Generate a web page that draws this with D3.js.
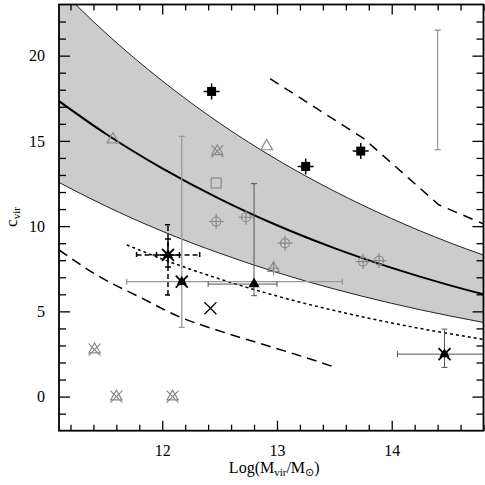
<!DOCTYPE html>
<html>
<head>
<meta charset="utf-8">
<script src="https://cdn.jsdelivr.net/npm/d3@7"></script>
<style>
  body { margin: 0; background: #fff; }
  text { font-family: "Liberation Serif", "DejaVu Serif", serif; }
</style>
</head>
<body>
<script>
// model band (mean relation and its scatter)
const bandX  = [11.1, 11.5, 12.0, 12.5, 13.0, 13.5, 14.0, 14.5, 14.8];
const meanC  = [17.33, 15.45, 13.39, 11.60, 10.05, 8.71, 7.55, 6.54, 6.00];
const upperC = [23.97, 21.37, 18.52, 16.04, 13.90, 12.05, 10.44, 9.04, 8.30];
const lowerC = [12.56, 11.20, 9.70, 8.41, 7.28, 6.31, 5.47, 4.74, 4.35];

// other curves
const dotX = [11.69, 12.0, 12.5, 13.0, 13.5, 14.0, 14.5, 14.8];
const dotC = [8.9, 8.07, 6.9, 5.9, 5.05, 4.32, 3.69, 3.36];
const lowDashX = [11.1, 11.45, 11.8, 12.15, 12.5, 12.85, 13.2, 13.48];
const lowDashC = [8.6, 7.05, 5.85, 4.68, 3.85, 3.12, 2.4, 1.78];
const upDashX = [12.94, 13.76, 14.41, 14.8];
const upDashC = [18.65, 15.12, 11.25, 10.13];

// points [logM, c]
const blackSquares   = [[12.43, 17.9], [13.25, 13.5], [13.73, 14.4]];
const openTriangles  = [[11.57, 15.08], [12.91, 14.68]];
const crossTriangles = [[12.48, 14.39], [11.41, 2.76], [11.60, 0], [12.09, 0]];
const plusTriangles  = [[12.97, 7.53]];
const openSquares    = [[12.47, 12.53]];
const crosshairs     = [[12.47, 10.27], [12.73, 10.52], [13.07, 9.0], [13.75, 7.92], [13.89, 7.98]];
const thinCrosses    = [[12.42, 5.18]];
const stars          = [[12.05, 8.31], [12.17, 6.74], [14.46, 2.49]];
const filledTriangles = [[12.80, 6.6]];

// error bars [x, c, xlo, xhi, clo, chi, kind]
const errorBars = [
  [12.05, 8.31, 11.776, 12.326, 5.96, 10.08, 'dash'],
  [12.05, 8.31, 11.95, 12.15, 7.6, 9.24, 'black'],
  [12.17, 6.74, 11.69, 13.57, 4.06, 15.27, 'light'],
  [12.80, 6.6, 12.40, 13.0, 5.92, 12.49, 'dark'],
  [14.46, 2.49, 14.05, 14.9, 1.71, 3.96, 'dark'],
  [14.40, 18.0, null, null, 14.49, 21.49, 'light']
];

const xTicks = [12, 13, 14];
const yTicks = [0, 5, 10, 15, 20];

const W = 485, H = 485;
const margin = {left: 59, right: 1.5, top: 4.5, bottom: 54.3};
const width = W - margin.left - margin.right;
const height = H - margin.top - margin.bottom;

const svg = d3.select('body').append('svg')
  .attr('width', W)
  .attr('height', H);

const g = svg.append('g')
  .attr('transform', `translate(${margin.left},${margin.top})`);

const x = d3.scaleLinear().domain([11.1, 14.8]).range([0, width]);
const y = d3.scaleLinear().domain([-2, 23]).range([height, 0]);

svg.append('defs').append('clipPath').attr('id', 'plot')
  .append('rect').attr('width', width).attr('height', height);

const plot = g.append('g').attr('clip-path', 'url(#plot)');

const gray = '#8a8a8a';

// band
const area = d3.area()
  .x((d, i) => x(bandX[i]))
  .y0((d, i) => y(lowerC[i]))
  .y1((d, i) => y(upperC[i]))
  .curve(d3.curveMonotoneX);
plot.append('path').datum(bandX).attr('d', area).attr('fill', '#cccccc');

const lineFrom = (xs, cs, curve) => d3.line()
  .x((d, i) => x(xs[i]))
  .y((d, i) => y(cs[i]))
  .curve(curve)(xs);

plot.append('path').attr('d', lineFrom(bandX, upperC, d3.curveMonotoneX))
  .attr('fill', 'none').attr('stroke', '#222').attr('stroke-width', 1);
plot.append('path').attr('d', lineFrom(bandX, lowerC, d3.curveMonotoneX))
  .attr('fill', 'none').attr('stroke', '#222').attr('stroke-width', 1);
plot.append('path').attr('d', lineFrom(bandX, meanC, d3.curveMonotoneX))
  .attr('fill', 'none').attr('stroke', '#000').attr('stroke-width', 2);

plot.append('path').attr('d', lineFrom(dotX, dotC, d3.curveMonotoneX))
  .attr('fill', 'none').attr('stroke', '#000').attr('stroke-width', 1.5)
  .attr('stroke-dasharray', '3,3');
plot.append('path').attr('d', lineFrom(lowDashX, lowDashC, d3.curveMonotoneX))
  .attr('fill', 'none').attr('stroke', '#000').attr('stroke-width', 1.5)
  .attr('stroke-dasharray', '10,6');
plot.append('path').attr('d', lineFrom(upDashX, upDashC, d3.curveLinear))
  .attr('fill', 'none').attr('stroke', '#000').attr('stroke-width', 1.5)
  .attr('stroke-dasharray', '10,7');

// error bars
const barStyle = {
  dash:  {color: '#000', w: 1.5, dash: '5,3'},
  black: {color: '#000', w: 1.5, dash: null},
  light: {color: '#999', w: 1.3, dash: null},
  dark:  {color: '#555', w: 1, dash: null}
};
errorBars.forEach(b => {
  const s = barStyle[b[6]];
  const eg = plot.append('g').attr('stroke', s.color).attr('stroke-width', s.w)
    .attr('stroke-dasharray', s.dash);
  const cx = x(b[0]), cy = y(b[1]);
  if (b[2] !== null) {
    eg.append('line').attr('x1', x(b[2])).attr('x2', x(b[3])).attr('y1', cy).attr('y2', cy);
    [b[2], b[3]].forEach(v => eg.append('line').attr('stroke-dasharray', null)
      .attr('x1', x(v)).attr('x2', x(v)).attr('y1', cy - 3).attr('y2', cy + 3));
  }
  eg.append('line').attr('x1', cx).attr('x2', cx).attr('y1', y(b[4])).attr('y2', y(b[5]));
  [b[4], b[5]].forEach(v => eg.append('line').attr('stroke-dasharray', null)
    .attr('x1', cx - 3).attr('x2', cx + 3).attr('y1', y(v)).attr('y2', y(v)));
});

const tri = d3.symbol().type(d3.symbolTriangle);
const pos = d => `translate(${x(d[0])},${y(d[1])})`;

// open triangles
plot.selectAll('.otri').data(openTriangles).join('path')
  .attr('transform', pos).attr('d', tri.size(60)())
  .attr('fill', 'none').attr('stroke', gray).attr('stroke-width', 1.2);

// triangles with X
const ct = plot.selectAll('.ctri').data(crossTriangles).join('g').attr('transform', pos)
  .attr('stroke', gray).attr('stroke-width', 1.2).attr('fill', 'none');
ct.append('path').attr('d', tri.size(55)());
ct.append('path').attr('d', 'M-6,-6L6,6M-6,6L6,-6');

// triangle with plus
const pt = plot.selectAll('.ptri').data(plusTriangles).join('g').attr('transform', pos)
  .attr('stroke', gray).attr('stroke-width', 1.2).attr('fill', 'none');
pt.append('path').attr('d', tri.size(55)());
pt.append('path').attr('d', 'M0,-7L0,7M-6,0L6,0');

// open square
plot.selectAll('.osq').data(openSquares).join('rect')
  .attr('x', d => x(d[0]) - 5).attr('y', d => y(d[1]) - 5)
  .attr('width', 10).attr('height', 10)
  .attr('fill', 'none').attr('stroke', gray).attr('stroke-width', 1.2);

// crosshairs
const ch = plot.selectAll('.ch').data(crosshairs).join('g').attr('transform', pos)
  .attr('stroke', gray).attr('stroke-width', 1.2).attr('fill', 'none');
ch.append('circle').attr('r', 4.5);
ch.append('path').attr('d', 'M0,-7.5L0,7.5M-7.5,0L7.5,0');

// thin black X
plot.selectAll('.tx').data(thinCrosses).join('path').attr('transform', pos)
  .attr('d', 'M-6,-6L6,6M-6,6L6,-6').attr('stroke', '#000').attr('stroke-width', 1.2);

// black squares with small bars
const bs = plot.selectAll('.bsq').data(blackSquares).join('g').attr('transform', pos);
bs.append('rect').attr('x', -4.5).attr('y', -4.5).attr('width', 9).attr('height', 9).attr('fill', '#000');
bs.append('path').attr('d', 'M0,-8L0,8M-8,0L8,0').attr('stroke', '#000').attr('stroke-width', 1.5);

// filled triangle
plot.selectAll('.ftri').data(filledTriangles).join('path').attr('transform', pos)
  .attr('d', tri.size(55)()).attr('fill', '#000');

// stars
const st = plot.selectAll('.star').data(stars).join('g').attr('transform', pos);
st.append('path').attr('d', tri.size(45)()).attr('fill', '#000');
st.append('circle').attr('r', 3.2).attr('fill', '#000');
st.append('path').attr('d', 'M-6,-6L6,6M-6,6L6,-6').attr('stroke', '#000').attr('stroke-width', 1.8);

// axes, ticks inward on all sides
const minorX = d3.range(11.2, 14.8, 0.2).filter(v => Math.abs(v - Math.round(v)) > 0.01);
const minorY = d3.range(-1, 23, 1).filter(v => v % 5 !== 0);
const tickFont = 16;

g.append('g').attr('transform', `translate(0,${height})`)
  .call(d3.axisBottom(x).tickValues(xTicks).tickSize(-10).tickPadding(14).tickFormat(d3.format('d')));
g.append('g').attr('transform', `translate(0,${height})`)
  .call(d3.axisBottom(x).tickValues(minorX).tickSize(-6).tickFormat(''));
g.append('g').call(d3.axisTop(x).tickValues(xTicks).tickSize(-10).tickFormat(''));
g.append('g').call(d3.axisTop(x).tickValues(minorX).tickSize(-6).tickFormat(''));

g.append('g')
  .call(d3.axisLeft(y).tickValues(yTicks).tickSize(-11).tickPadding(14).tickFormat(d3.format('d')));
g.append('g').call(d3.axisLeft(y).tickValues(minorY).tickSize(-7).tickFormat(''));
g.append('g').attr('transform', `translate(${width},0)`)
  .call(d3.axisRight(y).tickValues(yTicks).tickSize(-11).tickFormat(''));
g.append('g').attr('transform', `translate(${width},0)`)
  .call(d3.axisRight(y).tickValues(minorY).tickSize(-7).tickFormat(''));

g.selectAll('.domain').remove();
g.selectAll('.tick line').attr('stroke', '#000').attr('stroke-width', 1.3);
g.selectAll('.tick text')
  .style('font-family', '"Liberation Serif", serif')
  .attr('font-size', tickFont).attr('fill', '#000');

g.append('rect').attr('width', width).attr('height', height)
  .attr('fill', 'none').attr('stroke', '#000').attr('stroke-width', 1.8);

// axis titles
const xl = svg.append('text')
  .attr('x', margin.left + width / 2 + 3).attr('y', 473)
  .attr('text-anchor', 'middle').attr('font-size', 16);
xl.append('tspan').text('Log(M');
xl.append('tspan').attr('font-size', 11).attr('dy', 3).text('vir');
xl.append('tspan').attr('dy', -3).text('/M');
xl.append('tspan').attr('font-size', 11).attr('dy', 3)
  .style('font-family', '"DejaVu Sans", sans-serif').text('\u2299');
xl.append('tspan').attr('dy', -3).text(')');

const yl = svg.append('text')
  .attr('transform', 'translate(17,217) rotate(-90)')
  .attr('text-anchor', 'middle').attr('font-size', 17);
yl.append('tspan').text('c');
yl.append('tspan').attr('font-size', 11).attr('dy', 3).text('vir');
</script>
</body>
</html>
